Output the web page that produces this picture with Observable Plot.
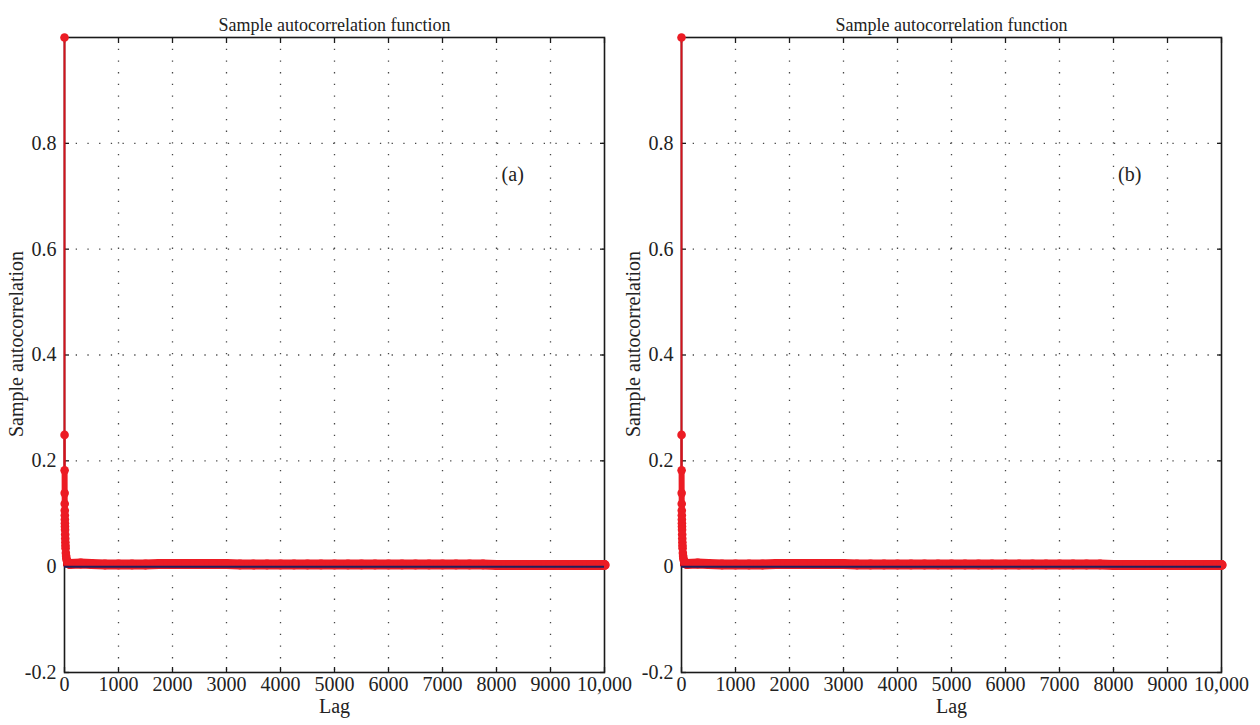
<!DOCTYPE html>
<html><head><meta charset="utf-8">
<script src="https://cdn.jsdelivr.net/npm/d3@7"></script>
<script src="https://cdn.jsdelivr.net/npm/@observablehq/plot@0.6"></script>
<style>
body{margin:0;background:#fff;}
#wrap{display:flex;width:1260px;height:725px;}
#wrap svg{overflow:visible;}
</style>
</head><body><div id="wrap"></div>
<script>
const panelLabels = ["(a)", "(b)"];
const titleText = "Sample autocorrelation function";
const xLabel = "Lag";
const yLabel = "Sample autocorrelation";
const xTicks = [0, 1000, 2000, 3000, 4000, 5000, 6000, 7000, 8000, 9000, 10000];
const xTickLabels = ["0", "1000", "2000", "3000", "4000", "5000", "6000", "7000", "8000", "9000", "10,000"];
const yTicks = [-0.2, 0, 0.2, 0.4, 0.6, 0.8];
const yTickLabels = ["-0.2", "0", "0.2", "0.4", "0.6", "0.8"];
const xGrid = [1000, 2000, 3000, 4000, 5000, 6000, 7000, 8000, 9000];
const yGrid = [0.2, 0.4, 0.6, 0.8];

// early decay of the autocorrelation (stems with markers)
const decayLags   = [0, 1, 2, 3, 4, 5, 6, 7, 8, 9, 10, 12, 14, 16, 18, 20, 25, 30, 35, 40, 50, 60, 80];
const decayValues = [1, 0.249, 0.182, 0.139, 0.119, 0.106, 0.097, 0.089, 0.082, 0.076, 0.070, 0.061, 0.053, 0.046, 0.040, 0.035, 0.026, 0.020, 0.016, 0.013, 0.010, 0.008, 0.006];

// dense band of markers near zero for the remaining lags
const bandLags   = [100, 300, 500, 750, 1000, 1250, 1500, 1750, 2000, 2250, 2500, 2750, 3000, 3250, 3500, 3750, 4000, 4250, 4500, 4750, 5000, 5250, 5500, 5750, 6000, 6250, 6500, 6750, 7000, 7250, 7500, 7750, 8000, 8250, 8500, 8750, 9000, 9250, 9500, 9750, 10000];
const bandValues = [0.005, 0.006, 0.005, 0.004, 0.004, 0.004, 0.004, 0.005, 0.005, 0.005, 0.005, 0.005, 0.005, 0.004, 0.004, 0.004, 0.004, 0.004, 0.004, 0.004, 0.004, 0.004, 0.004, 0.004, 0.004, 0.004, 0.004, 0.004, 0.004, 0.004, 0.004, 0.004, 0.003, 0.003, 0.003, 0.003, 0.003, 0.003, 0.003, 0.003, 0.003];

const annotLag = 8300;
const annotValue = 0.74;

const red = "#ec1c24";
const stemRed = "#d3121c";
const navy = "#1f1f5c";
const font = "'Liberation Serif', 'Times New Roman', serif";

const decay = decayLags.map((lag, i) => ({lag, v: decayValues[i]}));
const decayTail = decay.filter(d => d.lag >= 2);
const band = bandLags.map((lag, i) => ({lag, v: bandValues[i]}));

function panel(label, mLeft, mRight) {
  return Plot.plot({
    width: 630,
    height: 725,
    marginLeft: mLeft,
    marginRight: mRight,
    marginTop: 37,
    marginBottom: 53,
    style: {fontFamily: font, fontSize: "20px", color: "#222", background: "transparent", overflow: "visible"},
    x: {domain: [0, 10000], label: null},
    y: {domain: [-0.2, 1], label: null},
    marks: [
      // dotted grid
      Plot.ruleX(xGrid, {stroke: "#333", strokeWidth: 1.3, strokeDasharray: "1.3,10.4", strokeOpacity: 0.9}),
      Plot.ruleY(yGrid, {stroke: "#333", strokeWidth: 1.3, strokeDasharray: "1.3,10.4", strokeOpacity: 0.9}),
      // box frame
      Plot.frame({stroke: "#1a1a1a", strokeWidth: 1.6}),
      // inward ticks on all four sides
      Plot.axisX(xTicks, {anchor: "bottom", text: null, label: null, tickSize: 5, insetBottom: 5, stroke: "#1a1a1a", strokeWidth: 1.3}),
      Plot.axisX(xTicks, {anchor: "top", text: null, label: null, tickSize: 5, insetTop: 5, stroke: "#1a1a1a", strokeWidth: 1.3}),
      Plot.axisY(yTicks, {anchor: "left", text: null, label: null, tickSize: 5, insetLeft: 5, stroke: "#1a1a1a", strokeWidth: 1.3}),
      Plot.axisY(yTicks, {anchor: "right", text: null, label: null, tickSize: 5, insetRight: 5, stroke: "#1a1a1a", strokeWidth: 1.3}),
      // tick labels
      Plot.axisX(xTicks, {anchor: "bottom", tickSize: 0, tickPadding: 4, tickFormat: (d, i) => xTickLabels[i], label: null, fontSize: 20}),
      Plot.axisY(yTicks, {anchor: "left", tickSize: 0, tickPadding: 8, tickFormat: (d, i) => yTickLabels[i], label: null, fontSize: 20}),
      // band of markers near zero
      Plot.line(band, {x: "lag", y: "v", stroke: red, strokeWidth: 10, strokeLinecap: "round"}),
      Plot.dot(band, {x: "lag", y: "v", r: 5, fill: red, stroke: "none"}),
      // stems for early lags
      Plot.ruleX(decay, {x: "lag", y1: 0, y2: "v", stroke: stemRed, strokeWidth: 2}),
      Plot.line(decayTail, {x: "lag", y: "v", stroke: red, strokeWidth: 6}),
      Plot.dot(decay, {x: "lag", y: "v", r: 4.3, fill: red, stroke: "none"}),
      // zero line (confidence bounds)
      Plot.ruleY([0], {x1: 0, x2: 10000, stroke: navy, strokeWidth: 2}),
      // title & labels
      Plot.text([titleText], {frameAnchor: "top", dy: -19, fontSize: 18, fill: "#222"}),
      Plot.text([xLabel], {frameAnchor: "bottom", dy: 40, fontSize: 20, fill: "#222"}),
      Plot.text([yLabel], {frameAnchor: "left", textAnchor: "middle", dx: -48, dy: -11, rotate: -90, fontSize: 20, fill: "#222"}),
      Plot.text([label], {x: annotLag, y: annotValue, fontSize: 20, fill: "#222"})
    ]
  });
}

const wrap = document.getElementById("wrap");
const left = panel(panelLabels[0], 64, 26);
const right = panel(panelLabels[1], 51, 39);
left.style.overflow = "visible";
right.style.overflow = "visible";
left.style.position = "relative";
left.style.zIndex = "2";
wrap.appendChild(left);
wrap.appendChild(right);
</script>
</body></html>
